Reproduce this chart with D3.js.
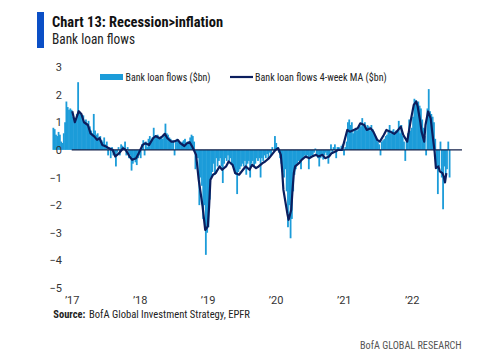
<!DOCTYPE html>
<html>
<head>
<meta charset="utf-8">
<script src="https://cdn.jsdelivr.net/npm/d3@7"></script>
<style>
html,body{margin:0;padding:0;background:#fff;}
svg{display:block;}
text{font-family:"Liberation Sans Narrow","Arial Narrow","Roboto Condensed",Roboto,sans-serif;}
</style>
</head>
<body>
<svg id="chart" width="500" height="358"></svg>
<script>
// ---------- DATA ----------
const title = "Chart 13: Recession>inflation";
const subtitle = "Bank loan flows";
const seriesNames = ["Bank loan flows ($bn)", "Bank loan flows 4-week MA ($bn)"];
const firstWeek = "2016-09-21";   // weekly observations from this date
const yTicks = [3, 2, 1, 0, -1, -2, -3, -4, -5];
const xTickYears = [2017, 2018, 2019, 2020, 2021, 2022];
const xTickLabels = ["\u201917", "\u201918", "\u201919", "\u201920", "\u201921", "\u201922"];
const zeroLineSpan = ["2017-01-01", "2022-09-28"];

// weekly bank loan flows ($bn)
const flows = [
0.8,0.75,0.55,0.5,0.65,0.55,0.3,0.25,0.6,1.0,
1.75,1.55,1.45,1.5,1.45,1.2,1.1,1.15,1.3,2.45,
1.35,1.3,1.2,1.25,1.0,1.1,0.95,1.05,0.85,0.7,
0.6,1.3,0.7,0.55,0.6,0.45,0.5,0.35,0.3,0.45,
0.2,0.3,-0.2,0.1,-0.3,0.1,-0.2,-0.1,-0.6,-0.1,
0.1,-0.2,0.2,0.15,0.0,0.3,-0.2,0.1,-0.3,-0.2,
-0.75,-0.5,-0.3,-0.45,-0.55,-0.3,-0.2,-0.3,0.2,0.35,
-0.2,0.3,0.1,0.4,0.5,0.3,0.45,0.8,0.5,0.5,
0.55,0.4,0.45,0.5,0.4,0.55,0.95,0.6,0.55,0.45,
0.4,0.3,0.35,-0.2,0.35,0.4,0.3,0.25,0.2,0.3,
0.35,0.4,0.25,0.3,0.3,0.45,0.55,0.5,0.3,-0.7,
-0.2,-0.3,-2.0,-1.0,-1.3,-2.5,-2.0,-3.8,-3.0,-2.8,
-1.8,-1.0,-0.8,-0.5,-0.9,-0.3,-0.6,-0.4,-0.3,-0.6,
-1.2,-0.5,-0.3,-0.4,-0.2,-0.4,-0.3,-0.5,-0.6,-0.7,
-0.9,-1.6,-0.8,-0.7,-0.6,-0.5,-0.6,-0.4,-0.9,-0.5,
-0.4,-1.0,-0.5,-0.4,-0.6,-0.5,-0.3,-0.4,-0.3,-1.0,
-0.3,-0.4,-0.2,-0.3,-0.15,-0.3,-0.1,-0.2,0.1,-0.05,
0.5,0.25,0.1,-0.1,-0.3,-0.5,-0.8,-1.0,-0.7,-1.5,
-2.8,-2.0,-3.2,-2.5,-1.5,-0.9,-0.7,-0.5,-0.4,-0.5,
-0.7,-0.3,-0.25,-0.2,-0.3,-0.2,-0.7,-0.3,-0.2,-0.25,
-0.1,0.05,-0.2,-0.3,-0.6,-0.3,-0.2,-0.35,-0.2,-0.1,
-0.2,-0.5,-0.2,0.2,-0.1,0.1,0.2,-0.3,0.1,0.1,
0.0,0.15,0.2,-0.2,0.1,0.3,1.0,1.1,0.9,1.0,
0.6,0.7,0.8,0.7,0.75,0.9,0.85,1.15,0.9,1.0,
0.8,0.9,0.85,0.7,0.9,0.75,0.6,0.5,0.4,0.3,
0.2,-0.2,0.3,0.35,0.4,0.5,0.55,0.7,0.9,0.6,
0.7,0.75,0.6,0.7,0.65,1.05,0.6,0.9,0.5,0.3,
-0.4,0.3,0.6,1.1,0.7,0.8,1.2,1.85,1.8,1.7,
1.75,1.6,1.5,1.1,0.8,0.5,-0.2,1.5,2.2,1.4,
1.3,1.2,1.0,0.4,-0.6,-1.6,-0.6,0.3,-1.0,-2.15,
-0.6,-0.9,-0.7,0.3,-1.0
];

// 4-week moving average: week number (from firstWeek) and value
const maWeek = [15,17,20,22,24,27,29,32,34,36,38,41,43,46,48,51,54,56,59,61,
64,66,69,71,74,77,79,82,84,86,88,91,93,96,98,101,103,105,107,110,
112,115,117,119,120,121,123,125,128,130,133,135,138,140,143,146,148,151,153,156,
158,161,163,166,168,171,173,175,176,177,180,181,183,184,185,186,189,191,194,197,
199,202,204,207,209,212,214,217,219,222,223,225,226,228,231,234,236,239,241,244,
246,249,251,254,256,259,262,264,267,269,272,273,275,277,279,280,282,283,285,286,
288,290,291,293,294,296,297,299,300,301,302];
const maValue = [1.4,1.0,1.4,1.3,1.0,0.9,0.6,0.48,0.36,0.42,0.18,0.12,0.06,0.0,-0.24,-0.12,0.06,0.0,-0.24,-0.36,
-0.3,-0.12,0.18,0.24,0.18,0.42,0.5,0.42,0.48,0.58,0.42,0.3,0.3,0.36,0.24,0.14,0.24,0.28,0.12,-0.18,
-1.08,-2.05,-2.9,-2.77,-2.05,-1.08,-0.9,-0.84,-0.6,-0.72,-0.6,-0.42,-0.54,-0.84,-0.9,-0.72,-0.6,-0.72,-0.54,-0.66,
-0.6,-0.48,-0.42,-0.3,-0.18,0.0,0.06,-0.18,-0.72,-1.45,-2.3,-2.53,-2.17,-1.45,-0.84,-0.6,-0.48,-0.36,-0.24,-0.3,
-0.24,-0.18,-0.24,-0.18,-0.3,-0.24,-0.12,-0.06,0.0,0.0,0.18,0.54,0.72,0.66,0.72,0.78,0.96,0.9,0.72,0.78,
0.66,0.36,0.3,0.54,0.72,0.66,0.58,0.66,0.84,0.54,0.3,0.6,1.14,1.63,1.75,1.57,1.02,0.66,0.3,0.9,
1.39,1.14,0.72,-0.06,-0.66,-0.6,-0.78,-0.84,-0.96,-1.18,-0.84];

// ---------- CHART ----------
const svg = d3.select("#chart");
const parse = d3.timeParse("%Y-%m-%d");
const start = parse(firstWeek);
const weekDate = i => d3.timeWeek.offset(start, i);

const x = d3.scaleTime()
  .domain([new Date(2017, 0, 1), new Date(2022, 0, 1)])
  .range([71.7, 411.7]);
const y = d3.scaleLinear().domain([-5, 3]).range([288, 67]);

const barData = flows.map((v, i) => ({date: weekDate(i), v}));
const maData = maWeek.map((w, i) => ({date: weekDate(w), v: maValue[i]}));
const barW = x(weekDate(1)) - x(weekDate(0));

// title block
svg.append("rect").attr("x", 37).attr("y", 12).attr("width", 7).attr("height", 36).attr("fill", "#0b4fc6");
svg.append("text").attr("x", 52).attr("y", 27).attr("font-size", 15).attr("font-weight", "bold")
  .attr("fill", "#111").attr("textLength", 171).attr("lengthAdjust", "spacingAndGlyphs").text(title);
svg.append("text").attr("x", 52).attr("y", 44).attr("font-size", 14)
  .attr("fill", "#222").attr("textLength", 83).attr("lengthAdjust", "spacingAndGlyphs").text(subtitle);

// bars
svg.append("g").selectAll("rect").data(barData).join("rect")
  .attr("x", d => x(d.date) - 0.25)
  .attr("width", barW + 0.5)
  .attr("y", d => y(Math.max(0, d.v)))
  .attr("height", d => Math.abs(y(d.v) - y(0)))
  .attr("fill", "#1c9cd9");

// zero line
svg.append("line")
  .attr("x1", x(parse(zeroLineSpan[0]))).attr("x2", x(parse(zeroLineSpan[1])))
  .attr("y1", y(0)).attr("y2", y(0))
  .attr("stroke", "#13204a").attr("stroke-width", 1.3);

// MA line
svg.append("path").datum(maData)
  .attr("fill", "none").attr("stroke", "#0b1e5e").attr("stroke-width", 2.2)
  .attr("stroke-linejoin", "round")
  .attr("d", d3.line().x(d => x(d.date)).y(d => y(d.v)));

// y axis
const yAxis = svg.append("g").attr("transform", "translate(62,0)")
  .call(d3.axisLeft(y).tickValues(yTicks).tickSize(0).tickPadding(0).tickFormat(d3.format("d")));
yAxis.select(".domain").remove();
yAxis.selectAll("text").attr("font-size", 11).attr("fill", "#333")
  .style("font-family", "'Liberation Sans Narrow','Arial Narrow',Roboto,sans-serif");

// x axis
const xAxis = svg.append("g").attr("transform", "translate(0,296)")
  .call(d3.axisBottom(x).tickValues(xTickYears.map(yr => new Date(yr, 0, 1)))
    .tickSize(0).tickPadding(0).tickFormat((d, i) => xTickLabels[i]));
xAxis.select(".domain").remove();
xAxis.selectAll("text").attr("font-size", 11).attr("fill", "#333")
  .style("font-family", "'Liberation Sans Narrow','Arial Narrow',Roboto,sans-serif");

// legend
svg.append("rect").attr("x", 100).attr("y", 74).attr("width", 23).attr("height", 6).attr("fill", "#1c9cd9");
svg.append("text").attr("x", 125.5).attr("y", 81).attr("font-size", 11).attr("fill", "#222")
  .attr("textLength", 85).attr("lengthAdjust", "spacingAndGlyphs").text(seriesNames[0]);
svg.append("line").attr("x1", 230).attr("x2", 253).attr("y1", 77).attr("y2", 77)
  .attr("stroke", "#0b1e5e").attr("stroke-width", 2.2);
svg.append("text").attr("x", 255).attr("y", 81).attr("font-size", 11).attr("fill", "#222")
  .attr("textLength", 131.7).attr("lengthAdjust", "spacingAndGlyphs").text(seriesNames[1]);

// source + footer
const src = svg.append("text").attr("x", 53.3).attr("y", 318).attr("font-size", 11).attr("fill", "#222");
src.append("tspan").attr("font-weight", "bold").attr("textLength", 32).attr("lengthAdjust", "spacingAndGlyphs").text("Source:");
src.append("tspan").attr("x", 89).attr("textLength", 161).attr("lengthAdjust", "spacingAndGlyphs").text("BofA Global Investment Strategy, EPFR");
svg.append("text").attr("x", 360).attr("y", 349).attr("font-size", 11).attr("fill", "#555")
  .attr("textLength", 101.7).attr("lengthAdjust", "spacingAndGlyphs").text("BofA GLOBAL RESEARCH");
</script>
</body>
</html>
